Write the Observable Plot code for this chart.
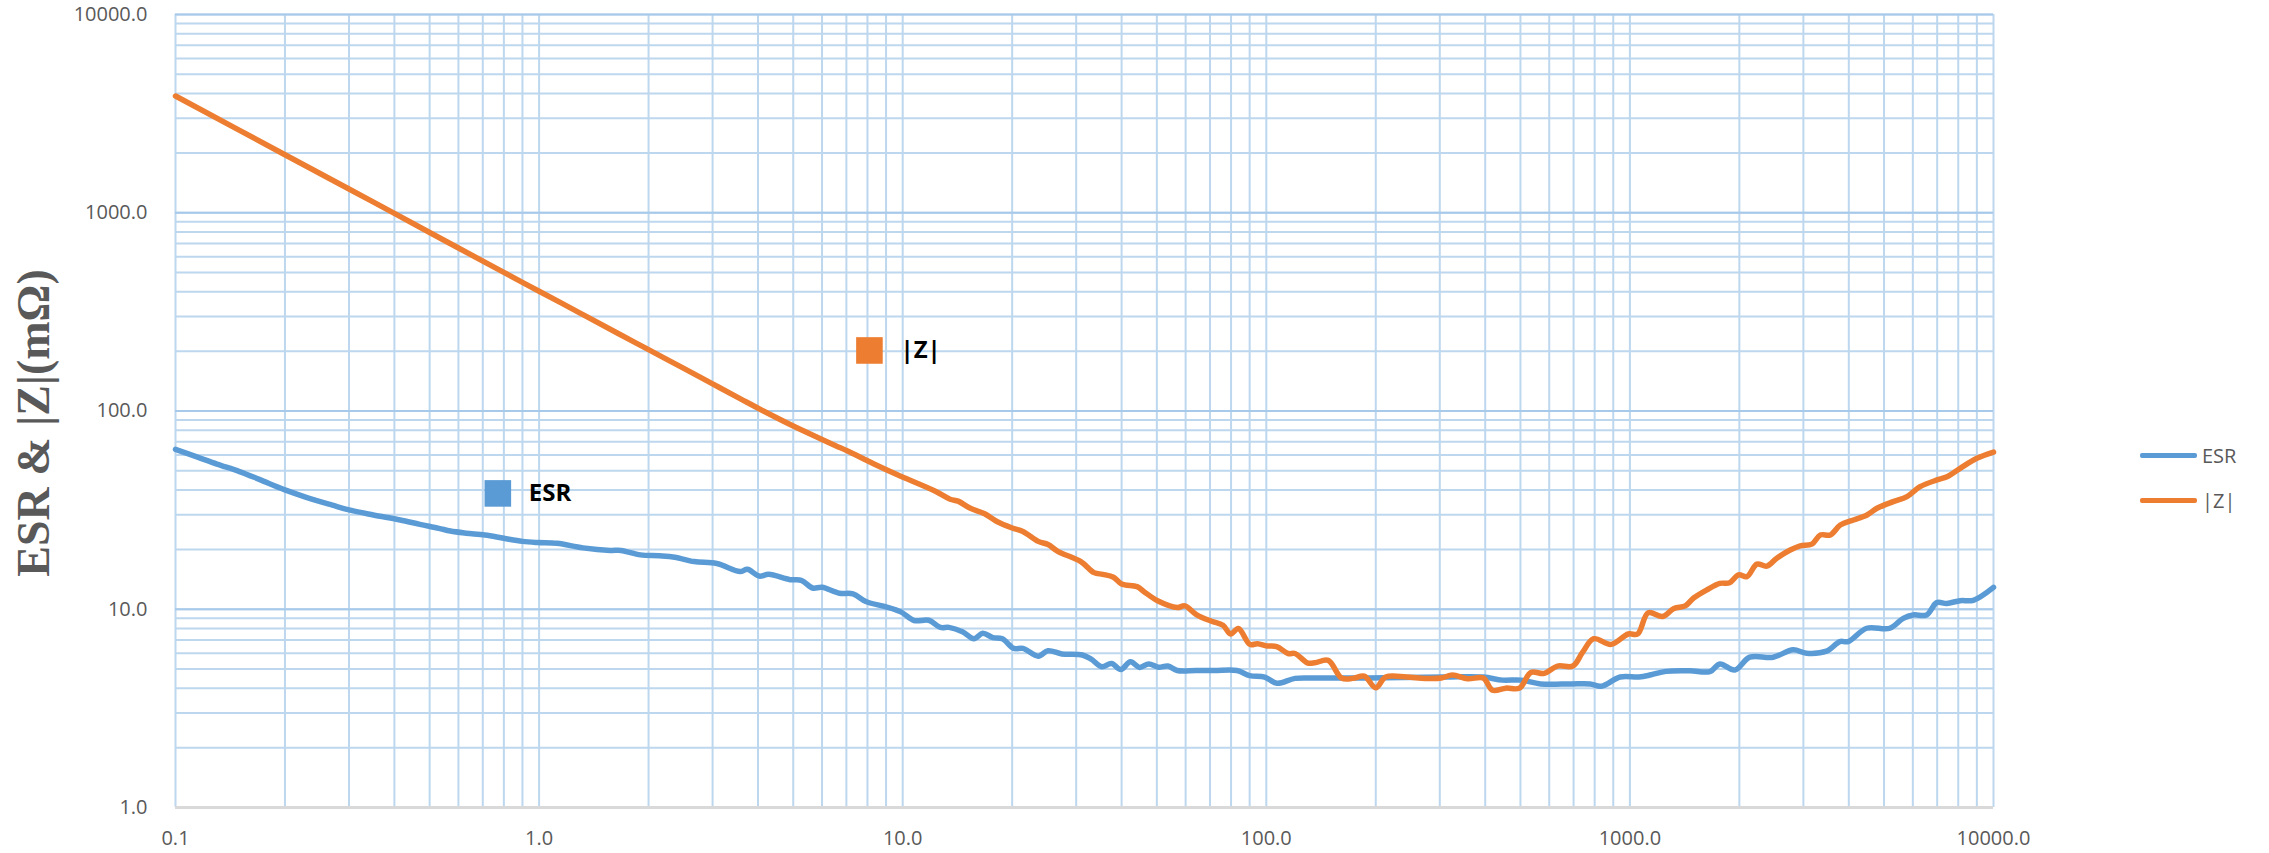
<!DOCTYPE html>
<html>
<head>
<meta charset="utf-8">
<script src="https://cdn.jsdelivr.net/npm/d3@7"></script>
<script src="https://cdn.jsdelivr.net/npm/@observablehq/plot@0.6"></script>
<style>
  html, body { margin: 0; padding: 0; background: #fff; }
  #wrap { position: relative; width: 2269px; height: 853px; overflow: hidden; }
  #ytitle {
    position: absolute; left: 33px; top: 423px;
    transform: translate(-50%, -50%) rotate(-90deg);
    white-space: nowrap; font-family: "Liberation Serif", serif; font-weight: bold;
    font-size: 46px; color: #595959;
  }
  #legend { position: absolute; left: 2140px; top: 433px; font-family: "Open Sans", sans-serif; font-size: 20px; color: #595959; }
  .row { display: flex; align-items: center; height: 45px; }
  .sw { width: 57px; height: 5px; margin-right: 5px; border-radius: 2px; }
</style>
</head>
<body>
<div id="wrap">
  <div id="chart"></div>
  <div id="ytitle">ESR &amp; |Z|(mΩ)</div>
  <div id="legend"></div>
</div>
<script>
// ---- data (frequency in Hz, values in mΩ) ----
const esrFreq = [0.1,0.115,0.13,0.15,0.17,0.2,0.23,0.27,0.3,0.35,0.415,0.47,0.53,0.57,0.63,0.71,0.8,0.9,0.99,1.12,1.32,1.57,1.68,1.9,2.14,2.36,2.67,3.08,3.57,3.74,4.03,4.28,4.9,5.26,5.65,6.0,6.7,7.3,7.95,8.96,9.88,10.75,11.8,12.7,13.4,14.6,15.7,16.6,17.7,18.8,20.2,21.4,23.6,25.1,27.4,31.2,33,35.3,37.5,39.8,42.3,44.8,47.5,50.5,53.6,56.9,64,72,83,90,99,107,120,136,190,310,395,446,502,568,690,777,834,940,1060,1144,1257,1462,1660,1768,1943,2136,2478,2811,3060,3474,3780,3984,4479,5186,5646,6015,6543,6980,7440,8100,8800,10000];
const esrValues = [64,58.5,54,49.5,45.2,40,36.6,33.5,31.7,29.9,28.2,26.8,25.6,24.8,24.2,23.7,22.8,22.0,21.7,21.5,20.4,19.8,19.8,18.8,18.6,18.3,17.4,17.0,15.5,15.9,14.7,15.0,14.1,14.0,12.8,12.9,12.05,11.95,10.9,10.3,9.7,8.77,8.8,8.1,8.1,7.7,7.1,7.56,7.2,7.1,6.35,6.35,5.8,6.18,5.95,5.88,5.6,5.13,5.33,4.97,5.43,5.09,5.3,5.1,5.17,4.91,4.91,4.91,4.91,4.63,4.55,4.23,4.48,4.5,4.5,4.55,4.55,4.39,4.39,4.2,4.2,4.2,4.09,4.55,4.55,4.67,4.86,4.89,4.85,5.3,4.94,5.73,5.73,6.24,6.0,6.15,6.87,6.87,8.02,8.02,9.0,9.36,9.36,10.8,10.7,11.05,11.1,12.9];

const zFreq = [0.1,0.2,0.3,0.4,0.6,0.8,1.0,1.3,1.65,2.0,2.5,3.0,3.57,4.14,5.0,5.94,6.54,7.03,8.34,9.64,12.3,13.5,14.2,15.3,16.8,18.1,20.0,21.4,23.6,25.1,26.7,30.9,33.6,35.5,38.0,40.0,44.1,46.0,50.4,56.9,59.7,64.2,70.7,76.0,79.8,83.8,90.1,94.6,100.5,106.8,114.8,120,129.6,136,148,161,173,186,200,213,243,274,303,325,358,395,419,456,497,534,581,632,697,740,795,888,990,1050,1123,1230,1322,1420,1497,1624,1768,1880,1990,2098,2235,2380,2535,2760,2940,3165,3340,3558,3790,4120,4490,4780,5300,5780,6280,6990,7450,8100,9000,10000];
const zValues = [3880,1961,1318,992,664,500,402,311,246,204,164,137,115.5,100,84,72.5,66.8,63,54,47.8,39.4,35.9,35.1,32.4,30.3,27.8,25.7,24.7,22.0,21.2,19.6,17.4,15.3,15.0,14.5,13.4,13.0,12.3,11.0,10.2,10.4,9.4,8.7,8.3,7.5,8.0,6.65,6.7,6.53,6.48,5.98,5.98,5.37,5.37,5.52,4.5,4.48,4.6,4.02,4.55,4.55,4.48,4.5,4.66,4.46,4.5,3.9,4.0,4.0,4.8,4.75,5.17,5.17,6.04,7.1,6.65,7.5,7.5,9.6,9.2,10.1,10.4,11.4,12.5,13.5,13.6,14.9,14.6,16.9,16.5,18.1,19.9,20.9,21.3,23.7,23.7,26.6,28.2,29.9,32.3,34.9,37.0,41.5,44.9,46.6,51.4,57.7,62];

const seriesNames = ["ESR", "|Z|"];
const seriesColors = ["#5B9BD5", "#ED7D31"];

const xTickValues = [0.1, 1, 10, 100, 1000, 10000];
const xTickLabels = ["0.1", "1.0", "10.0", "100.0", "1000.0", "10000.0"];
const yTickValues = [1, 10, 100, 1000, 10000];
const yTickLabels = ["1.0", "10.0", "100.0", "1000.0", "10000.0"];

// in-chart labels (data-space anchors)
const annoNames = ["ESR", "|Z|"];
const annoFreq = [0.77, 8.1];
const annoValue = [38.4, 202];

// ---- build ----
const esr = esrFreq.map((f, i) => ({f, v: esrValues[i]}));
const zz = zFreq.map((f, i) => ({f, v: zValues[i]}));
const annos = annoNames.map((n, i) => ({name: n, f: annoFreq[i], v: annoValue[i], color: seriesColors[i]}));

const minorOf = (lo, hi) => {
  const out = [];
  for (let e = Math.log10(lo); e < Math.log10(hi); e++)
    for (let m = 1; m < 10; m++) out.push(+(m * Math.pow(10, e)).toPrecision(3));
  out.push(hi);
  return out;
};
const xGrid = minorOf(0.1, 10000);
const yGrid = minorOf(1, 10000);

const gridColor = "#BDD7EE";

const chart = Plot.plot({
  width: 2269,
  height: 853,
  marginLeft: 175,
  marginRight: 276,
  marginTop: 14,
  marginBottom: 46,
  x: {type: "log", domain: [0.1, 10000]},
  y: {type: "log", domain: [1, 10000]},
  style: {fontFamily: "Open Sans, sans-serif", fontSize: "20px", color: "#595959", background: "white"},
  marks: [
    Plot.ruleX(xGrid, {stroke: gridColor, strokeWidth: 2}),
    Plot.ruleY(yGrid, {stroke: gridColor, strokeWidth: 2}),
    Plot.ruleY(yTickValues.slice(1), {stroke: "#A8CAEA", strokeWidth: 2}),
    Plot.ruleY([1], {stroke: "#D9D9D9", strokeWidth: 3}),
    Plot.axisX({ticks: xTickValues, tickFormat: d => xTickLabels[xTickValues.indexOf(d)], tickSize: 0, tickPadding: 23, label: null, fill: "#595959"}),
    Plot.axisY({ticks: yTickValues, tickFormat: d => yTickLabels[yTickValues.indexOf(d)], tickSize: 0, tickPadding: 28, label: null, fill: "#595959"}),
    Plot.line(esr, {x: "f", y: "v", stroke: seriesColors[0], strokeWidth: 5.5, curve: "catmull-rom"}),
    Plot.line(zz, {x: "f", y: "v", stroke: seriesColors[1], strokeWidth: 5.5, curve: "catmull-rom"}),
    Plot.dot(annos, {x: "f", y: "v", symbol: "square", r: 15, fill: "color", stroke: "none"}),
    Plot.text(annos, {x: "f", y: "v", text: "name", dx: 31, textAnchor: "start", fontWeight: "bold", fontSize: 24, fill: "#000", fontFamily: "Open Sans, sans-serif"})
  ]
});
document.getElementById("chart").appendChild(chart);

// legend
const lg = document.getElementById("legend");
seriesNames.forEach((n, i) => {
  const row = document.createElement("div");
  row.className = "row";
  const sw = document.createElement("div");
  sw.className = "sw";
  sw.style.background = seriesColors[i];
  const t = document.createElement("span");
  t.textContent = n;
  row.appendChild(sw); row.appendChild(t);
  lg.appendChild(row);
});
</script>
</body>
</html>
